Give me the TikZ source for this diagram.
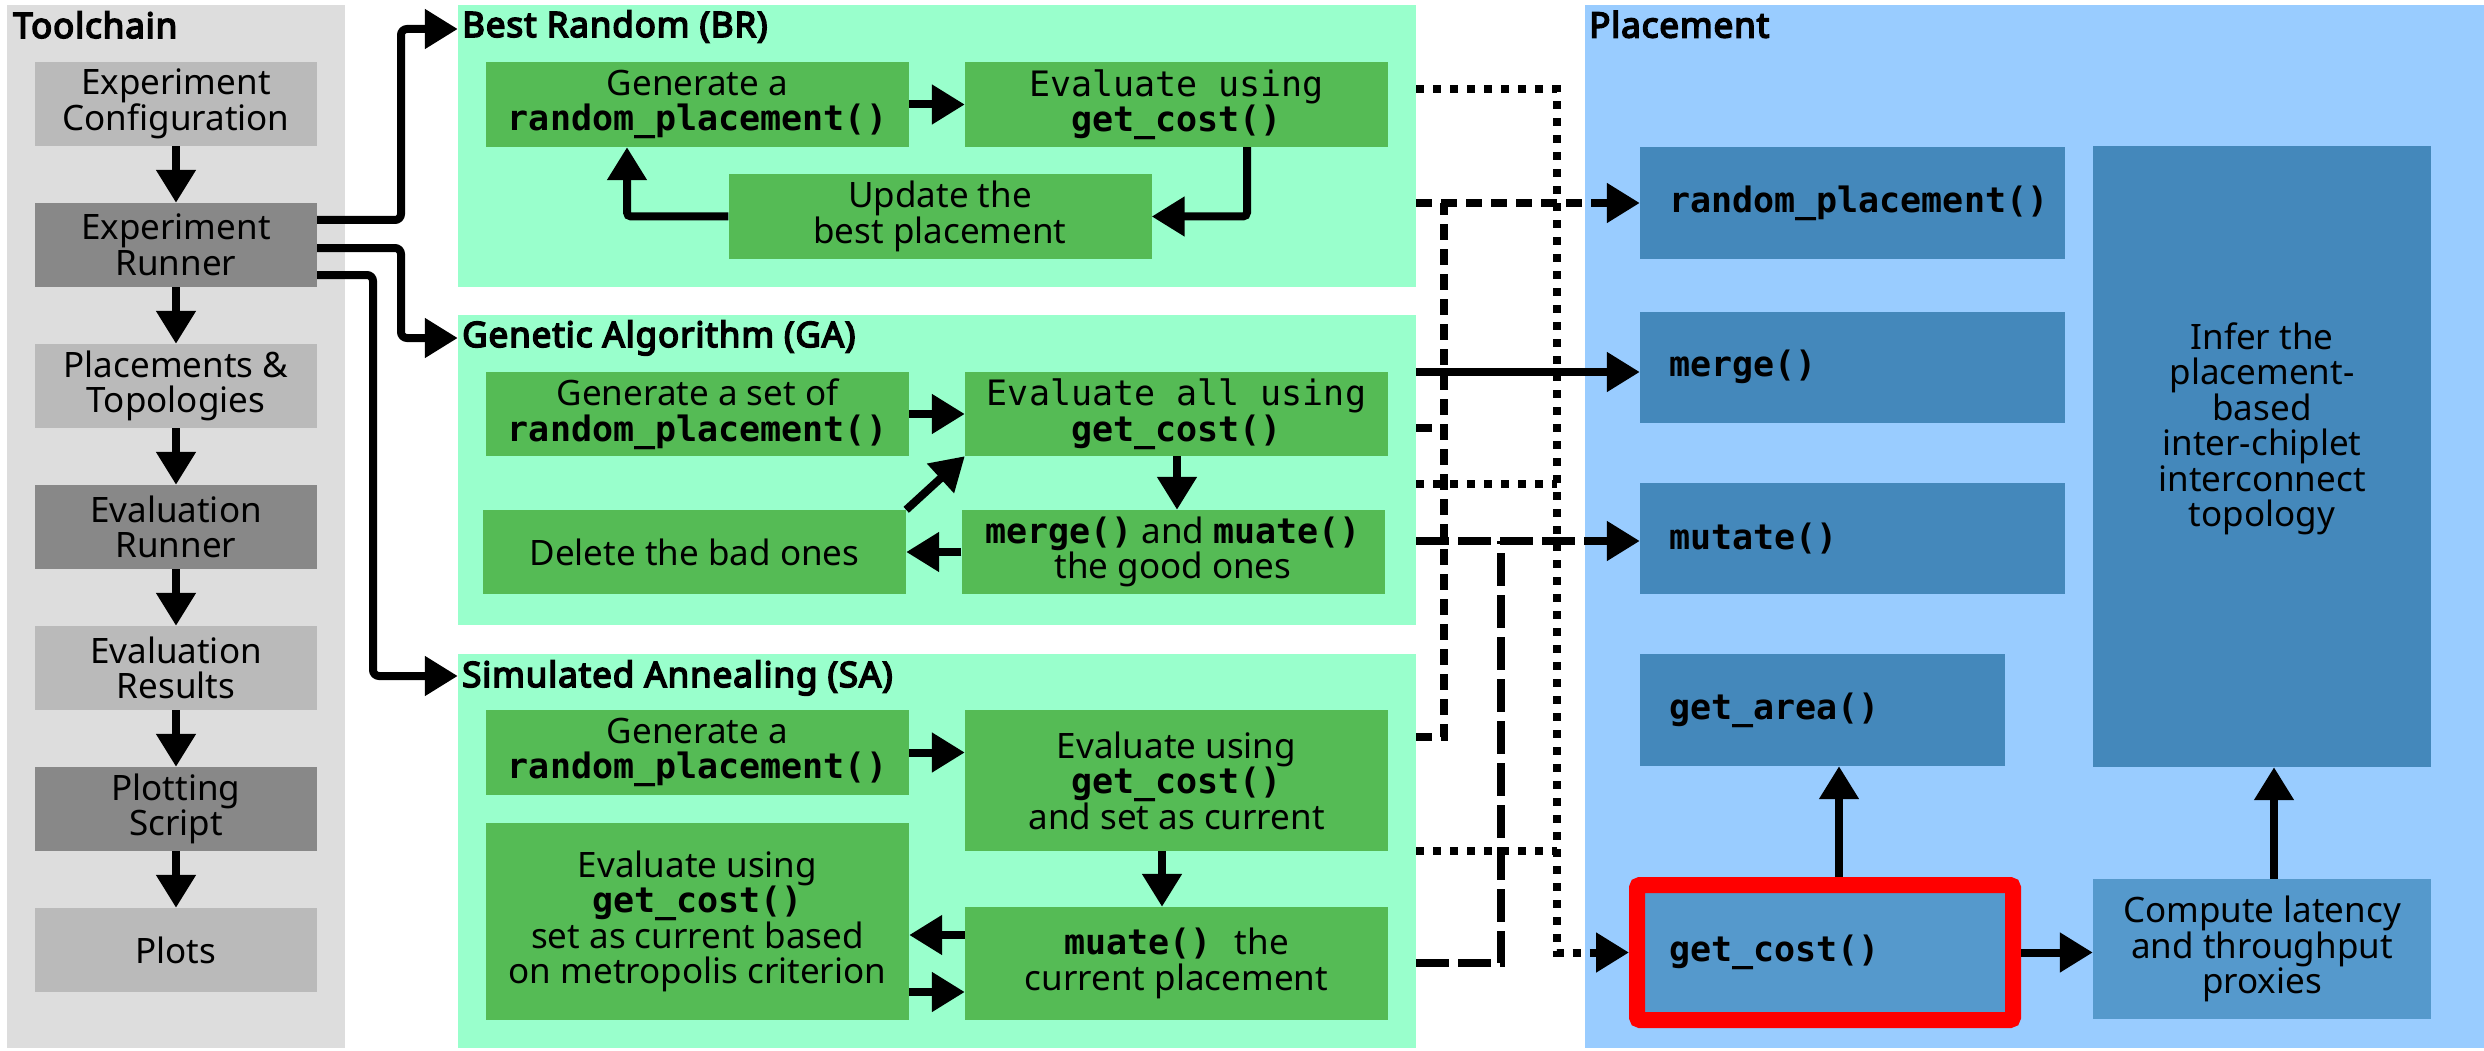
\documentclass[tikz,border=0pt]{standalone}
\usepackage{fontspec}
\setmainfont{Noto Sans}
\setmonofont{DejaVu Sans Mono}
\IfFontExistsTF{Noto Sans Bold}
  {\newfontfamily\headfont{Noto Sans Bold}}
  {\newfontfamily\headfont{Noto Sans}[FakeBold=4.5, LetterSpace=2.5]}
\usetikzlibrary{arrows.meta}

\newcommand{\codeb}[1]{{\ttfamily\bfseries #1}}
\newcommand{\codet}[1]{{\ttfamily #1}}

\definecolor{panelgray}{HTML}{DDDDDD}
\definecolor{stepgray}{HTML}{BABABA}
\definecolor{rungray}{HTML}{888888}
\definecolor{mint}{HTML}{99FFCC}
\definecolor{leaf}{HTML}{55BB55}
\definecolor{sky}{HTML}{99CCFF}
\definecolor{steel}{HTML}{4488BB}
\definecolor{steellight}{HTML}{5599CC}

\begin{document}
\begin{tikzpicture}[x=1pt,y=-1pt,
  >={Triangle[length=33pt,width=38pt]},
  body/.style={inner sep=0pt, align=center, text=black,
    font=\fontsize{35pt}{35.5pt}\selectfont},
  panel/.style={inner sep=0pt},
  heading/.style={inner sep=0pt, anchor=base west,
    font=\fontsize{35pt}{36pt}\headfont},
  fnbox/.style={inner ysep=0pt, align=left, fill=steel,
    font=\fontsize{35pt}{35.5pt}\selectfont},
  flow/.style={line width=8pt, ->},
  dotline/.style={line width=8pt, dash pattern=on 8pt off 9pt},
  dashline/.style={line width=8pt, dash pattern=on 16pt off 9pt},
  longdash/.style={line width=8pt, dash pattern=on 33pt off 9pt}]

\useasboundingbox (0,0) rectangle (2484,1051);

% ---------- panels ----------
\node[panel, fill=panelgray, minimum width=338pt, minimum height=1043pt] (tc) at (176,526.5) {};
\node[panel, fill=mint, minimum width=958pt, minimum height=282pt] (br) at (937,146) {};
\node[panel, fill=mint, minimum width=958pt, minimum height=310pt] (ga) at (937,470) {};
\node[panel, fill=mint, minimum width=958pt, minimum height=394pt] (sa) at (937,851) {};
\node[panel, fill=sky, minimum width=899pt, minimum height=1043pt] (pl) at (2034.5,526.5) {};

\node[heading] (tcTitle) at (13,38) {Toolchain};
\node[heading] (brTitle) at (462,37) {Best Random (BR)};
\node[heading] (gaTitle) at (462,347) {Genetic Algorithm (GA)};
\node[heading] (saTitle) at (462,687) {Simulated Annealing (SA)};
\node[heading] (plTitle) at (1589,37.5) {Placement};

% ---------- toolchain ----------
\begin{scope}[every node/.style={body, minimum width=282pt, minimum height=84pt}]
\node[fill=stepgray] (cfg) at (176,104) {Experiment\\Configuration};
\node[fill=rungray] (run) at (176,245) {Experiment\\Runner};
\node[fill=stepgray] (plc) at (176,386) {Placements \&\\Topologies};
\node[fill=rungray] (erun) at (176,527) {Evaluation\\Runner};
\node[fill=stepgray] (eres) at (176,668) {Evaluation\\Results};
\node[fill=rungray] (plot) at (176,809) {Plotting\\Script};
\node[fill=stepgray] (plots) at (176,950) {Plots};
\end{scope}

\draw[flow] (cfg.south) -- (run.north);
\draw[flow] (run.south) -- (plc.north);
\draw[flow] (plc.south) -- (erun.north);
\draw[flow] (erun.south) -- (eres.north);
\draw[flow] (eres.south) -- (plot.north);
\draw[flow] (plot.south) -- (plots.north);

% ---------- best random ----------
\begin{scope}[every node/.style={body, fill=leaf, minimum width=423pt, minimum height=85pt}]
\node (brGen) at (697.5,104.5) {Generate a\\\codeb{random\_placement()}};
\node (brEval) at (1176.5,104.5) {\codet{Evaluate using}\\\codeb{get\_cost()}};
\node (brUpd) at (940,216.5) {Update the\\best placement};
\end{scope}

\draw[flow] (brGen.east) -- (brEval.west);
\draw[flow, rounded corners=4pt] (brEval.south -| 1247,0) |- (brUpd.east);
\draw[flow, rounded corners=4pt] (brUpd.west) -| (brGen.south -| 627,0);

% ---------- genetic algorithm ----------
\begin{scope}[every node/.style={body, fill=leaf, minimum width=423pt, minimum height=84pt}]
\node (gaGen) at (697.5,414) {Generate a set of\\\codeb{random\_placement()}};
\node (gaEval) at (1176.5,414) {\codet{Evaluate all using}\\\codeb{get\_cost()}};
\node (gaMrg) at (1173,552) {\codeb{merge()} and \codeb{muate()}\\the good ones};
\node (gaDel) at (694.5,552) {Delete the bad ones};
\end{scope}

\draw[flow] (gaGen.east) -- (gaEval.west);
\draw[flow] (gaEval.south -| 1177,0) -- (gaMrg.north -| 1177,0);
\draw[flow] (gaMrg.west) -- (gaDel.east);
\draw[flow] (gaDel.north east) -- (gaEval.south west);

% ---------- simulated annealing ----------
\begin{scope}[every node/.style={body, fill=leaf, minimum width=423pt}]
\node[minimum height=85pt] (saGen) at (697.5,752.5) {Generate a\\\codeb{random\_placement()}};
\node[minimum height=141pt] (saEval) at (1176.5,780.5) {Evaluate using\\\codeb{get\_cost()}\\and set as current};
\node[minimum height=113pt] (saMut) at (1176.5,963.5) {\codeb{muate()}\hspace{23pt}the\\current placement};
\node[minimum height=197pt] (saEv2) at (697.5,921.5) {Evaluate using\\\codeb{get\_cost()}\\set as current based\\on metropolis criterion};
\end{scope}

\draw[flow] (saGen.east) -- (saGen.east -| saEval.west);
\draw[flow] (saEval.south -| 1162,0) -- (saMut.north -| 1162,0);
\draw[flow] (saMut.west |- 0,935) -- (saEv2.east |- 0,935);
\draw[flow] (saEv2.east |- 0,992) -- (saMut.west |- 0,992);

% ---------- toolchain to the algorithms ----------
\draw[flow, rounded corners=6pt] (run.east |- 0,220) -| (401,29) -- (br.west |- 0,29);
\draw[flow, rounded corners=6pt] (run.east |- 0,248) -| (401,338) -- (ga.west |- 0,338);
\draw[flow, rounded corners=6pt] (run.east |- 0,275) -| (373,676) -- (sa.west |- 0,676);

% ---------- placement ----------
\node[fnbox, minimum height=112pt, text width=367pt, inner xsep=29pt] (rp) at (1852.5,203) {\codeb{random\_placement()}};
\node[fnbox, minimum height=111pt, text width=367pt, inner xsep=29pt] (mg) at (1852.5,367) {\codeb{merge()}};
\node[fnbox, minimum height=111pt, text width=367pt, inner xsep=29pt] (mt) at (1852.5,538.5) {\codeb{mutate()}};
\node[fnbox, minimum height=112pt, text width=307pt, inner xsep=29pt] (garea) at (1822.5,710) {\codeb{get\_area()}};
\node[fnbox, fill=steellight, draw=red, line width=16pt, rounded corners=3pt,
      minimum height=135pt, text width=312pt, inner xsep=32pt] (gc) at (1825,952.5) {\codeb{get\_cost()}};
\node[body, fill=steel, minimum width=338pt, minimum height=620.5pt] (inf) at (2262,456.75) {};
\node[body] (infText) at (2262,429) {Infer the\\placement-\\based\\inter-chiplet\\interconnect\\topology};
\node[body, fill=steellight, minimum width=338pt, minimum height=140pt] (cmp) at (2262,949)
  {Compute latency\\and throughput\\proxies};

\draw[flow] (gc.east) -- (gc.east -| cmp.west);
\draw[flow] (gc.north -| 1839,0) -- (garea.south -| 1839,0);
\draw[flow] (cmp.north -| 2274,0) -- (inf.south -| 2274,0);

% ---------- calls from the algorithms into the placement ----------
\coordinate (dotTop) at (1557,89);
\coordinate (dotGA) at (1557,484);
\coordinate (dotSA) at (1557,851);
\coordinate (dashGA) at (1444,428);
\coordinate (dashSA) at (1444,737);
\coordinate (mutSA) at (1501,963);

% get_cost()
\draw[dotline, ->] (br.east |- dotTop) -- (dotTop) |- (gc.west);
\draw[dotline] (ga.east |- dotGA) -- (dotGA);
\draw[dotline] (sa.east |- dotSA) -- (dotSA);

% random_placement()
\draw[dashline, ->] (br.east |- rp.west) -- (rp.west);
\draw[dashline] (ga.east |- dashGA) -- (dashGA);
\draw[dashline] (sa.east |- dashSA) -- (dashSA) -- (dashSA |- rp.west);

% merge()
\draw[flow] (ga.east |- 0,372) -- (mg.west |- 0,372);

% mutate()
\draw[longdash, ->] (ga.east |- 0,541) -- (mt.west |- 0,541);
\draw[longdash] (sa.east |- mutSA) -- (mutSA) -- (mutSA |- 0,541);

\end{tikzpicture}
\end{document}
